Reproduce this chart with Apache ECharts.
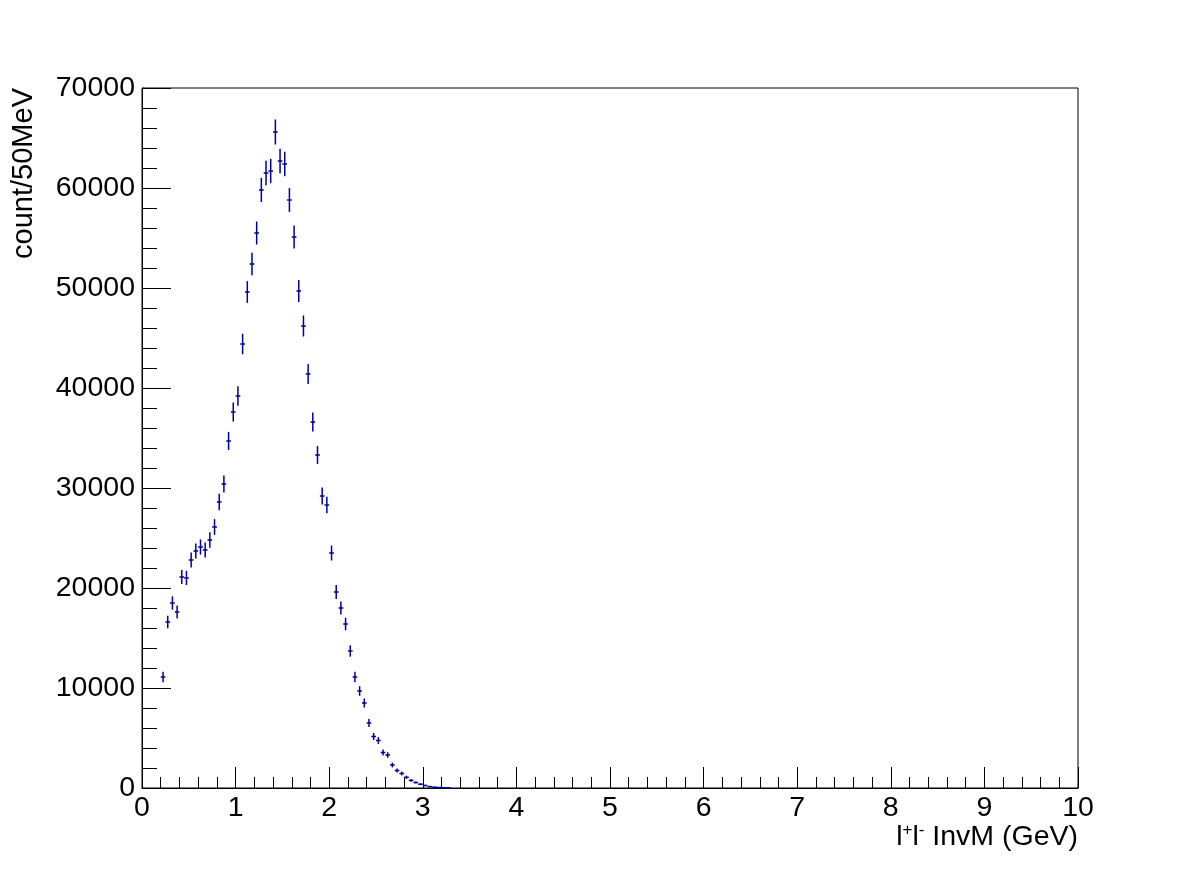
<!DOCTYPE html>
<html>
<head>
<meta charset="utf-8">
<script src="https://cdn.jsdelivr.net/npm/echarts@6/dist/echarts.min.js"></script>
<style>
html,body{margin:0;padding:0;background:#fff;}
#chart{width:1198px;height:876px;}
</style>
</head>
<body>
<div id="chart"></div>
<script>
// bin centres (GeV), 50 MeV bins
var binCenters = [0.225,0.275,0.325,0.375,0.425,0.475,0.525,0.575,0.625,0.675,
  0.725,0.775,0.825,0.875,0.925,0.975,1.025,1.075,1.125,1.175,
  1.225,1.275,1.325,1.375,1.425,1.475,1.525,1.575,1.625,1.675,
  1.725,1.775,1.825,1.875,1.925,1.975,2.025,2.075,2.125,2.175,
  2.225,2.275,2.325,2.375,2.425,2.475,2.525,2.575,2.625,2.675,
  2.725,2.775,2.825,2.875,2.925,2.975,3.025,3.075,3.125,3.175,
  3.225,3.275];
// counts per bin
var counts = [11100,16600,18500,17600,21100,21000,22800,23700,24100,23800,
  24800,26100,28600,30400,34700,37600,39200,44400,49600,52400,
  55500,59800,61500,61700,65600,62700,62400,58800,55100,49700,
  46200,41400,36600,33300,29200,28300,23500,19600,18000,16400,
  13700,11100,9700,8500,6500,5150,4750,3550,3300,2300,
  1750,1450,1070,760,550,380,250,140,80,50,
  30,15];
// error on each bin
var errors = [520,630,670,650,710,710,740,750,760,760,
  770,790,830,850,910,950,970,1030,1090,1120,
  1150,1200,1220,1220,1250,1230,1220,1190,1150,1090,
  1050,1000,940,890,840,820,750,690,660,630,
  570,520,480,450,400,350,340,290,280,240,
  200,190,160,140,110,95,80,60,44,35,
  27,19];
var xTickLabels = ['0','1','2','3','4','5','6','7','8','9','10'];
var yTickLabels = ['0','10000','20000','30000','40000','50000','60000','70000'];

var halfBin = 0.025;
var markColor = '#000099';
var font = '"Liberation Sans", Arial, Helvetica, sans-serif';

var data = binCenters.map(function(x, i){ return [x, counts[i], errors[i]]; });

var chart = echarts.init(document.getElementById('chart'), null, {renderer:'canvas'});
chart.setOption({
  animation: false,
  backgroundColor: '#ffffff',
  grid: {left: 142, right: 120, top: 88, bottom: 88, show: true,
    borderColor: '#000', borderWidth: 1, backgroundColor: 'transparent'},
  title: {
    text: 'l{sup|+}l{sup|-} InvM (GeV)',
    right: 120, top: 822, padding: 0,
    textStyle: {fontFamily: font, fontSize: 28.5, fontWeight: 'normal', color: '#000',
      rich: {sup: {fontFamily: font, fontSize: 17, color: '#000', verticalAlign: 'top', padding: [0,0,14,0]}}}
  },
  graphic: [{
    type: 'text', x: 24, y: 88, rotation: Math.PI / 2,
    style: {text: 'count/50MeV', fontFamily: font, fontSize: 29, fill: '#000',
      align: 'right', verticalAlign: 'middle'}
  }],
  xAxis: {
    type: 'value', min: 0, max: 10, interval: 1,
    axisLine: {show: true, lineStyle: {color: '#000', width: 1}},
    axisTick: {show: true, inside: true, length: 21, lineStyle: {color: '#000'}},
    minorTick: {show: true, splitNumber: 5, length: 11, lineStyle: {color: '#000'}},
    splitLine: {show: false},
    axisLabel: {fontFamily: font, fontSize: 28.5, color: '#000', margin: 6,
      formatter: function(v){ return xTickLabels[Math.round(v)]; }}
  },
  yAxis: {
    type: 'value', min: 0, max: 70000, interval: 10000,
    axisLine: {show: true, lineStyle: {color: '#000', width: 1}},
    axisTick: {show: true, inside: true, length: 29, lineStyle: {color: '#000'}},
    minorTick: {show: true, splitNumber: 5, length: 15, lineStyle: {color: '#000'}},
    splitLine: {show: false},
    axisLabel: {fontFamily: font, fontSize: 28.5, color: '#000', margin: 7, padding: [4,0,0,0],
      formatter: function(v){ return yTickLabels[Math.round(v / 10000)]; }}
  },
  series: [{
    type: 'custom',
    data: data,
    encode: {x: 0, y: 1},
    renderItem: function(params, api){
      var x = api.value(0), y = api.value(1), e = api.value(2);
      var pc = api.coord([x, y]);
      var pl = api.coord([x - halfBin, y]);
      var pr = api.coord([x + halfBin, y]);
      var pt = api.coord([x, y + e]);
      var pb = api.coord([x, Math.max(0, y - e)]);
      var st = {stroke: markColor, lineWidth: 1.5, fill: null};
      return {type: 'group', children: [
        {type: 'line', shape: {x1: pl[0], y1: pc[1], x2: pr[0], y2: pc[1]}, style: st},
        {type: 'line', shape: {x1: pc[0], y1: pt[1], x2: pc[0], y2: pb[1]}, style: st}
      ]};
    }
  }]
});
</script>
</body>
</html>
